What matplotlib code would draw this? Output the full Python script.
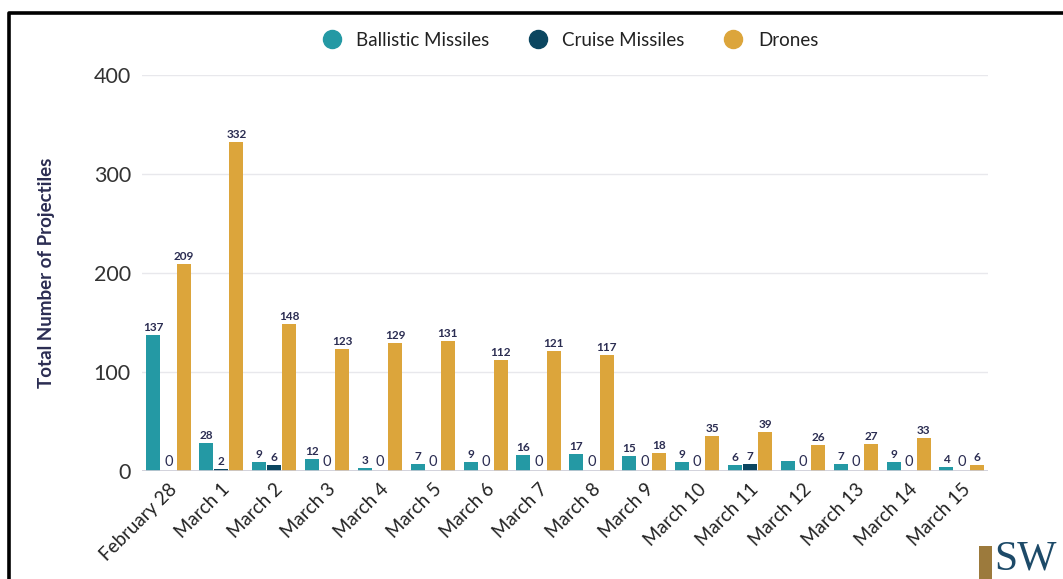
import numpy as np
import matplotlib
matplotlib.use("Agg")
import matplotlib.pyplot as plt
from matplotlib.lines import Line2D
from matplotlib.patches import Rectangle

days = ["February 28", "March 1", "March 2", "March 3", "March 4", "March 5",
        "March 6", "March 7", "March 8", "March 9", "March 10", "March 11",
        "March 12", "March 13", "March 14", "March 15"]
ballistic = [137, 28, 9, 12, 3, 7, 9, 16, 17, 15, 9, 6, 10, 7, 9, 4]
cruise = [0, 2, 6, 0, 0, 0, 0, 0, 0, 0, 0, 7, 0, 0, 0, 0]
drones = [209, 332, 148, 123, 129, 131, 112, 121, 117, 18, 35, 39, 26, 27, 33, 6]
# ballistic count for March 12 has no printed label
hide_label = {("ballistic", 12)}

c_ball = "#2499a4"
c_cruise = "#0b4660"
c_drone = "#dca53b"
c_text = "#2b2d52"

plt.rcParams["font.family"] = ["Lato", "DejaVu Sans"]

fig = plt.figure(figsize=(10.63, 5.79), dpi=100)
W, H = 1063, 579
ax = fig.add_axes([142 / W, 108 / H, 846 / W, 396 / H])

x = np.arange(len(days))
bw = 0.265
off = 0.285
series = [("ballistic", ballistic, c_ball, -off),
          ("cruise", cruise, c_cruise, 0),
          ("drones", drones, c_drone, off)]

for name, vals, col, dx in series:
    bars = ax.bar(x + dx, vals, width=bw, color=col, zorder=3)
    for i, (b, v) in enumerate(zip(bars, vals)):
        if (name, i) in hide_label:
            continue
        fs = 10.5 if v == 0 else 8.5
        fw = "normal" if v == 0 else "bold"
        ax.text(b.get_x() + b.get_width() / 2, v + 2, str(v),
                ha="center", va="bottom", fontsize=fs, color=c_text,
                fontweight=fw, zorder=4)

ax.set_xlim(-0.5, len(days) - 0.5)
ax.set_ylim(0, 400)
ax.set_yticks([0, 100, 200, 300, 400])
ax.yaxis.grid(True, color="#e8e8ec", linewidth=1, zorder=0)
ax.axhline(0, color="#ccccd6", linewidth=1.2, zorder=3)
for s in ax.spines.values():
    s.set_visible(False)
ax.tick_params(axis="y", length=0, pad=8, labelsize=15.5, labelcolor="#333333")
ax.tick_params(axis="x", length=0, pad=7, labelsize=13.5, labelcolor="#222222")
ax.set_xticks(x)
ax.set_xticklabels(days, rotation=45, ha="right", rotation_mode="anchor")
ax.set_ylabel("Total Number of Projectiles", fontsize=13.5, fontweight="bold",
              color=c_text, labelpad=28)

handles = [Line2D([], [], marker="o", linestyle="", markersize=13, color=c)
           for c in (c_ball, c_cruise, c_drone)]
fig.legend(handles, ["Ballistic Missiles", "Cruise Missiles", "Drones"],
           loc="center", bbox_to_anchor=(0.532, 1 - 40 / H), ncol=3,
           frameon=False, fontsize=13.5, handletextpad=0.3, columnspacing=1.6,
           labelcolor="#222222")

# black frame on left and top
fig.add_artist(Line2D([9 / W, 9 / W, 1.0], [0, 1 - 13 / H, 1 - 13 / H],
                      transform=fig.transFigure, color="black", linewidth=2.6))

# logo in the corner: gold bar plus serif letters
fig.add_artist(Rectangle((979 / W, 0), 13 / W, 33 / H, transform=fig.transFigure,
                         facecolor="#9c7a3c", edgecolor="none"))
fig.text(994 / W, 1 / H, "SW", fontsize=30, color="#1d4a68",
         family="Liberation Serif", ha="left", va="bottom")

fig.savefig("out.png", dpi=100)
